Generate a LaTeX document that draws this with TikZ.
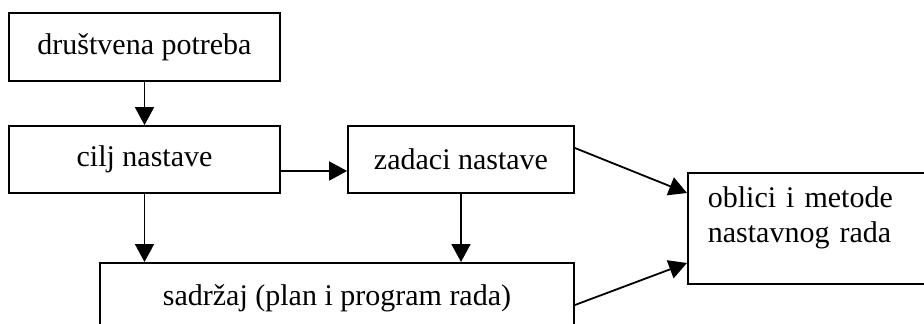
\documentclass[tikz,border=0pt]{standalone}
\usepackage{fontspec}
\setmainfont{Liberation Serif}
\usetikzlibrary{arrows.meta}

\tikzset{
	blok/.style={draw,line width=1.8pt,inner sep=0pt,font=\fontsize{30}{35}\selectfont},
	veza/.style={line width=1.8pt,-{Triangle[length=18pt,width=19pt]}}
}

\begin{document}
\begin{tikzpicture}[x=1pt,y=-1pt]
		\def\boxh{67}
		\clip (0,0) rectangle (924,324);
		\useasboundingbox (0,0) rectangle (924,324);
		
		\node[blok,minimum width=271pt,minimum height=68pt] (potreba) at (144.5,47) {društvena potreba};
		\node[blok,minimum width=271pt,minimum height=\boxh pt] (cilj) at (144.5,159.5) {cilj nastave};
		\node[blok,minimum width=226pt,minimum height=\boxh pt] (zadaci) at (461,159.5) {zadaci nastave};
		\node[blok,anchor=north,minimum width=474pt,text height=43pt,text depth=30pt] (sadrzaj) at (337,262) {sadržaj (plan i program rada)};
		\node[blok,anchor=north west,text width=200pt,align=left,inner xsep=20pt,text height=35pt,text depth=76pt] (oblici) at (687,172) {oblici i metode\\nastavnog rada};
		
		\draw[veza] (potreba) -- (cilj);
		\draw[veza] ([yshift=-11.5pt]cilj.east) -- ([yshift=-11.5pt]zadaci.west);
		\draw[veza] (cilj.south) -- (cilj.south |- sadrzaj.north);
		\draw[veza] (zadaci.south) -- (zadaci.south |- sadrzaj.north);
		\draw[veza] ([yshift=11.5pt]zadaci.east) -- ([yshift=-21pt]oblici.north west);
		\draw[veza] ([yshift=-43pt]sadrzaj.north east) -- ([yshift=-91pt]oblici.north west);
	\end{tikzpicture}
\end{document}
